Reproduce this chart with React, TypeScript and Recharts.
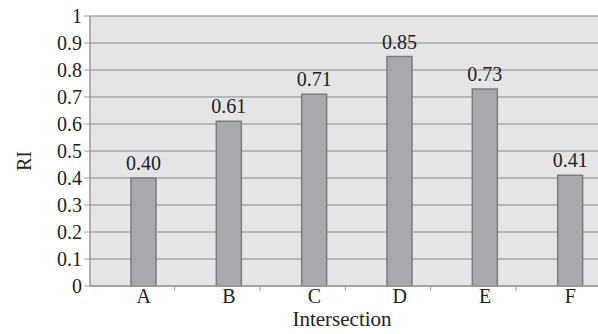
import { BarChart, Bar, XAxis, YAxis, CartesianGrid, LabelList } from "recharts";

const categories = ["A", "B", "C", "D", "E", "F"];
const riValues = [0.4, 0.61, 0.71, 0.85, 0.73, 0.41];
const yTicks = [0, 0.1, 0.2, 0.3, 0.4, 0.5, 0.6, 0.7, 0.8, 0.9, 1];

const data = categories.map((name, i) => ({ name, ri: riValues[i] }));

const FONT = "'Liberation Serif', 'DejaVu Serif', serif";
const AXIS = "#9a9a9c";
const INK = "#222";

function XTick({ x, y, payload }: any) {
  return (
    <g>
      <line x1={x + 31} x2={x + 31} y1={y - 8} y2={y - 3} stroke={AXIS} strokeWidth={1} />
      <text x={x} y={y + 9} textAnchor="middle" style={{ fontFamily: FONT, fontSize: 20 }} fill={INK}>
        {payload.value}
      </text>
    </g>
  );
}

function YTick({ x, y, payload }: any) {
  const v = payload.value as number;
  const txt = v === 0 || v === 1 ? String(v) : v.toFixed(1);
  return (
    <text x={x} y={y} dy={7} textAnchor="end" style={{ fontFamily: FONT, fontSize: 20 }} fill={INK}>
      {txt}
    </text>
  );
}

function TopLabel({ x, y, width, value }: any) {
  return (
    <text x={x + width / 2} y={y - 8} textAnchor="middle" style={{ fontFamily: FONT, fontSize: 20 }} fill={INK}>
      {Number(value).toFixed(2)}
    </text>
  );
}

export default function App() {
  return (
    <div
      style={{
        position: "absolute",
        left: 0,
        top: 0,
        width: 598,
        height: 334,
        overflow: "hidden",
        background: "#fff",
        fontFamily: FONT,
      }}
    >
      <BarChart
        width={620}
        height={334}
        data={data}
        margin={{ top: 16, right: 7, bottom: 0, left: 0 }}
        barSize={25}
        style={{ fontFamily: FONT }}
      >
        <CartesianGrid vertical={false} stroke="#a7a7a9" strokeWidth={1.5} fill="#e5e5e7" />
        <XAxis
          dataKey="name"
          height={48}
          padding={{ left: 11, right: 0 }}
          axisLine={{ stroke: AXIS, strokeWidth: 1.5 }}
          tickLine={false}
          tick={<XTick />}
          interval={0}
          label={{
            content: () => (
              <text x={342} y={326} textAnchor="middle" style={{ fontFamily: FONT, fontSize: 21 }} fill={INK}>
                Intersection
              </text>
            ),
          }}
        />
        <YAxis
          width={90}
          domain={[0, 1]}
          ticks={yTicks}
          interval={0}
          tickSize={6}
          tick={<YTick />}
          axisLine={{ stroke: AXIS, strokeWidth: 1.5 }}
          tickLine={{ stroke: AXIS }}
          label={{
            content: () => (
              <text
                x={24}
                y={161}
                transform="rotate(-90 24 161)"
                textAnchor="middle"
                dominantBaseline="central"
                style={{ fontFamily: FONT, fontSize: 20 }}
                fill={INK}
              >
                RI
              </text>
            ),
          }}
        />
        <Bar dataKey="ri" fill="#a8a9ad" stroke="#7b7c7f" strokeWidth={1.5} isAnimationActive={false}>
          <LabelList dataKey="ri" content={<TopLabel />} />
        </Bar>
      </BarChart>
    </div>
  );
}
